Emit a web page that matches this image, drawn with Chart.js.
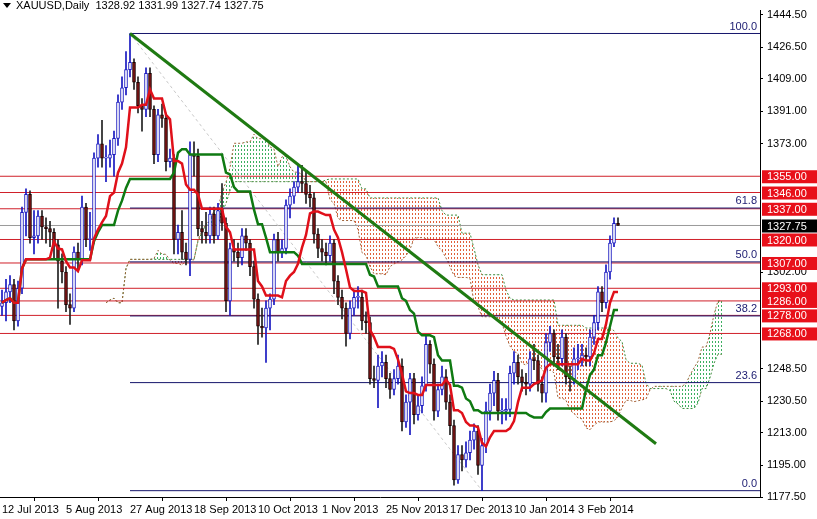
<!DOCTYPE html>
<html>
<head>
<meta charset="utf-8">
<script src="https://cdn.jsdelivr.net/npm/chart.js@4"></script>
<style>
  html, body { margin: 0; padding: 0; background: #fff; }
  #wrap { width: 817px; height: 519px; }
</style>
</head>
<body>
<div id="wrap"><canvas id="xau"></canvas></div>
<script>
// 日足の終値・高値・安値（画像から目視で読んだ値）
const CLOSE = [1285,1291,1295,1275,1293,1335,1345,1321,1322,1333,1327,1326,1324,1317,1308,1302,1284,1282,1313,1309,
  1338,1320,1320,1365,1373,1365,1365,1367,1376,1396,1404,1414,1418,1407,1394,1392,1412,1392,1367,1389,
  1387,1363,1365,1320,1324,1313,1309,1367,1366,1326,1324,1322,1334,1322,1336,1329,1286,1315,1313,1310,
  1322,1318,1305,1287,1272,1271,1282,1287,1320,1313,1315,1339,1344,1349,1352,1351,1345,1343,1323,1315,
  1313,1311,1318,1297,1288,1282,1268,1282,1288,1288,1275,1274,1243,1242,1250,1252,1243,1237,1243,1250,
  1219,1230,1243,1223,1228,1239,1262,1251,1225,1237,1244,1230,1217,1187,1201,1198,1202,1209,1214,1195,
  1206,1225,1235,1242,1225,1225,1226,1246,1252,1244,1241,1240,1254,1253,1240,1235,1263,1268,1255,1254,
  1266,1244,1243,1254,1254,1256,1255,1266,1274,1291,1285,1302,1318,1328.92,1327.75];
const HIGH = [1292,1298,1300,1298,1297,1338,1348,1347,1336,1336,1336,1332,1330,1326,1320,1312,1305,1290,1316,1318,
  1344,1340,1335,1368,1378,1386,1372,1375,1380,1400,1410,1424,1434,1420,1410,1398,1415,1415,1394,1392,
  1395,1390,1370,1367,1328,1336,1318,1374,1374,1370,1330,1335,1338,1338,1340,1351,1332,1318,1320,1318,
  1326,1326,1320,1308,1290,1282,1286,1290,1323,1324,1320,1342,1348,1352,1361,1361,1358,1350,1346,1326,
  1320,1318,1322,1320,1300,1292,1285,1286,1292,1294,1292,1280,1277,1250,1256,1258,1256,1246,1248,1256,
  1254,1234,1246,1246,1234,1244,1267,1264,1254,1240,1250,1248,1234,1220,1206,1206,1208,1214,1218,1217,
  1210,1230,1240,1247,1246,1232,1232,1250,1258,1256,1248,1246,1258,1262,1256,1244,1268,1272,1270,1262,
  1270,1268,1250,1260,1262,1262,1260,1270,1278,1294,1294,1306,1322,1332,1331.99];
const LOW = [1278,1275,1285,1270,1272,1290,1322,1318,1312,1318,1320,1318,1316,1310,1282,1296,1280,1273,1280,1302,
  1306,1316,1314,1318,1360,1360,1352,1360,1355,1372,1392,1400,1410,1403,1390,1380,1388,1388,1362,1363,
  1382,1358,1360,1312,1312,1309,1306,1300,1355,1322,1318,1318,1318,1318,1320,1325,1280,1278,1308,1305,
  1306,1314,1300,1282,1262,1266,1252,1270,1284,1308,1310,1312,1332,1340,1346,1346,1340,1338,1318,1310,
  1308,1306,1308,1290,1284,1276,1261,1265,1278,1282,1270,1268,1240,1238,1227,1244,1238,1232,1234,1240,
  1214,1216,1212,1218,1220,1224,1236,1246,1220,1222,1234,1226,1212,1184,1185,1192,1194,1198,1204,1190,
  1181,1202,1220,1228,1220,1218,1220,1222,1240,1240,1236,1234,1236,1248,1236,1230,1230,1258,1250,1248,
  1250,1240,1236,1240,1248,1250,1250,1250,1262,1270,1280,1282,1298,1316,1327.74];
const FIRST_OPEN = 1283;

// 下の日付ラベル（バー番号 → 表示）
const DATE_TICKS = [0, 16, 32, 48, 64, 80, 96, 112, 128, 144];
const DATE_LABELS = ['12 Jul 2013', '5 Aug 2013', '27 Aug 2013', '18 Sep 2013', '10 Oct 2013',
  '1 Nov 2013', '25 Nov 2013', '17 Dec 2013', '10 Jan 2014', '3 Feb 2014'];
const PRICE_TICKS = [1444.5, 1426.5, 1409, 1391, 1373, 1302, 1248.5, 1230.5, 1213, 1195, 1177.5];

// 水平線（赤）とフィボナッチ
const SR_LEVELS = [1355, 1346, 1337, 1320, 1307, 1293, 1286, 1278, 1268];
const FIB_NAMES = ['100.0', '61.8', '50.0', '38.2', '23.6', '0.0'];
const FIB_LEVELS = [1434, 1337.4, 1307.6, 1277.7, 1240.8, 1181];
const FIB_START = 32;
const TREND_X = [32, 163.5];
const TREND_Y = [1434, 1207];
const FIB_DIAG_X = [32, 120];
const FIB_DIAG_Y = [1434, 1181];
const LAST_PRICE = 1327.75;
const HEADER = 'XAUUSD,Daily  1328.92 1331.99 1327.74 1327.75';

const N = CLOSE.length;
const SHIFT = 26;
const XMAX = 189.5;
const FONT = 'Liberation Sans';
const OPEN = CLOSE.map((c, i) => i === 0 ? FIRST_OPEN : CLOSE[i - 1]);
OPEN[N - 1] = 1328.92;

// 一目均衡表（期間が足りない最初の方はある分だけで計算）
const midRange = (i, len) => {
  const s = Math.max(0, i - len + 1);
  const hi = Math.max(...HIGH.slice(s, i + 1));
  const lo = Math.min(...LOW.slice(s, i + 1));
  return (hi + lo) / 2;
};
const tenkan = CLOSE.map((_, i) => ({ x: i, y: midRange(i, 9) }));
const kijun = CLOSE.map((_, i) => ({ x: i, y: midRange(i, 26) }));
const spanA = CLOSE.map((_, i) => ({ x: i + SHIFT, y: (tenkan[i].y + kijun[i].y) / 2 }));
const spanB = CLOSE.map((_, i) => ({ x: i + SHIFT, y: midRange(i, 52) }));

// 雲の点々模様
const dotPattern = (color) => {
  const c = document.createElement('canvas');
  c.width = 3; c.height = 4;
  const g = c.getContext('2d');
  g.fillStyle = color;
  g.fillRect(1, 1, 1, 2);
  return g.createPattern(c, 'repeat');
};
const greenDots = dotPattern('#3cb060');
const redDots = dotPattern('#e0603a');

const idx = CLOSE.map((_, i) => i);
const bull = idx.map(i => CLOSE[i] >= OPEN[i]);

const hline = (y, x0, color, width, order) => ({
  type: 'line',
  data: [{ x: x0, y: y }, { x: XMAX, y: y }],
  borderColor: color, borderWidth: width,
  pointRadius: 0, fill: false, order: order,
});

const datasets = [
  { type: 'line', label: 'spanA', data: spanA, borderColor: '#a0643a', borderWidth: 1, borderDash: [2, 2],
    pointRadius: 0, fill: { target: '+1', above: greenDots, below: redDots }, order: 20 },
  { type: 'line', label: 'spanB', data: spanB, borderColor: '#3a8a3a', borderWidth: 1, borderDash: [2, 2],
    pointRadius: 0, fill: false, order: 20 },
  ...SR_LEVELS.map(l => hline(l, -0.5, '#d0202a', 1, 15)),
  hline(LAST_PRICE, -0.5, '#9a9a9a', 1, 15),
  ...FIB_LEVELS.map(l => hline(l, FIB_START, '#15156b', 1, 14)),
  { type: 'line', data: FIB_DIAG_X.map((x, k) => ({ x: x, y: FIB_DIAG_Y[k] })), borderColor: '#c8c8c8',
    borderWidth: 1, borderDash: [3, 3], pointRadius: 0, order: 14 },
  { type: 'bar', label: 'wick', data: idx.map(i => ({ x: i, y: [LOW[i], HIGH[i]] })),
    backgroundColor: idx.map(i => bull[i] ? '#1818c0' : '#202020'), barThickness: 1, grouped: false, order: 6 },
  { type: 'bar', label: 'body', data: idx.map(i => ({ x: i, y: [OPEN[i], CLOSE[i]] })),
    backgroundColor: idx.map(i => bull[i] ? '#ffffff' : '#7a1414'),
    borderColor: idx.map(i => bull[i] ? '#1818c0' : '#1a0000'),
    borderWidth: 1, borderSkipped: false, barThickness: 3, minBarLength: 1, grouped: false, order: 5 },
  { type: 'line', label: 'kijun', data: kijun, borderColor: '#0f7a12', borderWidth: 2.5, pointRadius: 0, order: 3 },
  { type: 'line', label: 'tenkan', data: tenkan, borderColor: '#e0101a', borderWidth: 2.5, pointRadius: 0, order: 2 },
  { type: 'line', label: 'trend', data: TREND_X.map((x, k) => ({ x: x, y: TREND_Y[k] })),
    borderColor: '#1f7a12', borderWidth: 3, pointRadius: 0, order: 1 },
];

const boxes = {
  id: 'boxes',
  afterDraw(chart) {
    const ctx = chart.ctx;
    const ys = chart.scales.y;
    const area = chart.chartArea;
    ctx.save();
    ctx.font = '11px "' + FONT + '"';
    ctx.textBaseline = 'middle';
    // フィボの数値
    ctx.fillStyle = '#1a1a70';
    ctx.textAlign = 'right';
    FIB_LEVELS.forEach((l, k) => ctx.fillText(FIB_NAMES[k], area.right - 3, ys.getPixelForValue(l) - 7));
    // 水平線の価格ボックス
    ctx.textAlign = 'left';
    SR_LEVELS.forEach(l => {
      const y = ys.getPixelForValue(l);
      ctx.fillStyle = '#e8101a';
      ctx.fillRect(area.right + 2, y - 6, 55, 13);
      ctx.fillStyle = '#fff';
      ctx.fillText(l.toFixed(2), area.right + 7, y + 1);
    });
    const yl = ys.getPixelForValue(LAST_PRICE);
    ctx.fillStyle = '#000';
    ctx.fillRect(area.right + 2, yl - 6, 55, 13);
    ctx.fillStyle = '#fff';
    ctx.fillText(LAST_PRICE.toFixed(2), area.right + 7, yl + 1);
    // 左上の見出し
    ctx.fillStyle = '#000';
    ctx.fillText(HEADER, 16, 6);
    ctx.beginPath();
    ctx.moveTo(3, 3); ctx.lineTo(11, 3); ctx.lineTo(7, 8); ctx.closePath();
    ctx.fill();
    ctx.restore();
  }
};

window.onload = function () {
  const context = document.querySelector('#xau').getContext('2d');
  new Chart(context, {
    data: { datasets: datasets },
    options: {
      responsive: true,
      maintainAspectRatio: false,
      animation: false,
      layout: { padding: 0 },
      plugins: { legend: { display: false }, tooltip: { enabled: false } },
      scales: {
        x: {
          type: 'linear', min: -0.5, max: XMAX, offset: false,
          afterBuildTicks: (scale) => { scale.ticks = DATE_TICKS.map(v => ({ value: v })); },
          afterFit: (scale) => { scale.height = 22; },
          ticks: {
            autoSkip: false, maxRotation: 0, align: 'start', padding: 2,
            color: '#000', font: { family: FONT, size: 11 },
            callback: (v) => DATE_LABELS[DATE_TICKS.indexOf(v)] || '',
          },
          grid: { drawOnChartArea: false, color: '#000', tickLength: 4 },
          border: { color: '#000' },
        },
        y: {
          position: 'right', min: 1177.5, max: 1446.67,
          afterBuildTicks: (scale) => { scale.ticks = PRICE_TICKS.map(v => ({ value: v })); },
          afterFit: (scale) => { scale.width = 57; },
          ticks: {
            padding: 4, color: '#000', font: { family: FONT, size: 11 },
            callback: (v) => v.toFixed(2),
          },
          grid: { drawOnChartArea: false, color: '#000', tickLength: 3 },
          border: { color: '#000' },
        },
      },
    },
    plugins: [boxes],
  });
};
</script>
</body>
</html>
